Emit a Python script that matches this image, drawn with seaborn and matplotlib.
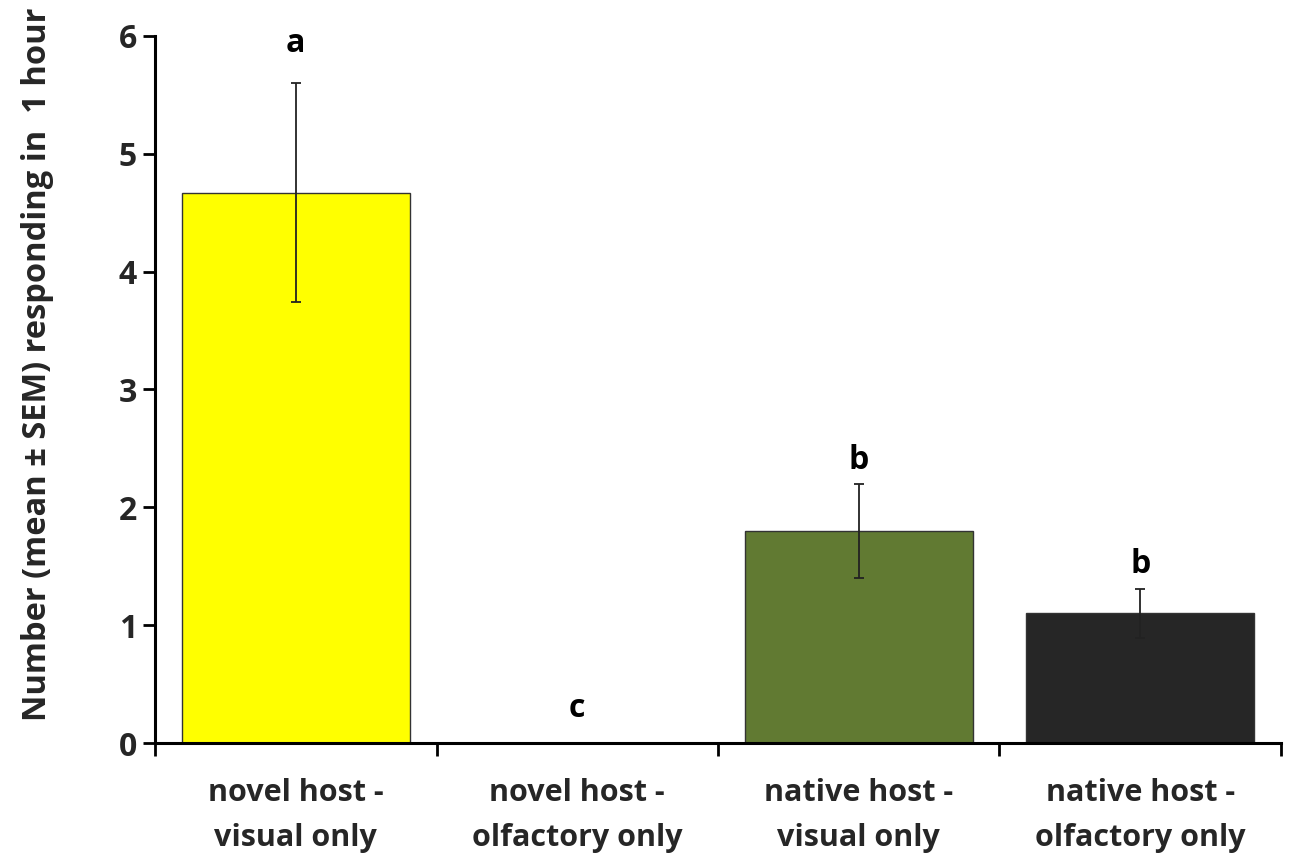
import matplotlib
matplotlib.use("Agg")
import matplotlib.pyplot as plt
import seaborn as sns
import pandas as pd
import numpy as np

# Response counts per treatment (mean and standard error)
treatments = ["novel host -\nvisual only", "novel host -\nolfactory only",
              "native host -\nvisual only", "native host -\nolfactory only"]
means = [4.67, 0.0, 1.80, 1.10]
sems = [0.93, 0.0, 0.40, 0.21]
letters = ["a", "c", "b", "b"]
bar_colors = ["#FFFF00", "#FFFFFF", "#617A32", "#262626"]
y_ticks = [0, 1, 2, 3, 4, 5, 6]

sns.set_theme(style="white")
plt.rcParams["font.family"] = ["Open Sans", "DejaVu Sans"]

df = pd.DataFrame({"treatment": treatments, "mean": means})

fig = plt.figure(figsize=(12.93, 8.56), dpi=100)
ax = fig.add_axes([0.1199, 0.132, 0.8708, 0.826])

sns.barplot(data=df, x="treatment", y="mean", hue="treatment",
            palette=bar_colors, saturation=1, legend=False, width=0.81,
            edgecolor="#333333", linewidth=1.0, ax=ax)

# zero-height bar gets no outline
for patch, m in zip(ax.patches, means):
    if m == 0:
        patch.set_linewidth(0)

xpos = np.arange(len(treatments))
ax.errorbar(xpos, means, yerr=[s if s > 0 else np.nan for s in sems],
            fmt="none", ecolor="#222222", elinewidth=1.3, capsize=3.5,
            capthick=1.3, zorder=3)

# significance letters above each bar
label_pad_px = [40, 35, 23, 24]
for x, m, s, lab, pad in zip(xpos, means, sems, letters, label_pad_px):
    ax.annotate(lab, xy=(x, m + s), xytext=(0, pad * 72 / 100),
                textcoords="offset points", ha="center", va="center",
                fontsize=23, fontweight="bold", color="black")

ax.set_xlim(-0.5, len(treatments) - 0.5)
ax.set_ylim(0, 6)
ax.set_yticks(y_ticks)
ax.set_yticklabels([str(t) for t in y_ticks], fontsize=23, fontweight="bold")

# category boundaries carry the tick marks; labels sit on the bar centres
ax.set_xticks(np.arange(-0.5, len(treatments), 1.0))
ax.set_xticklabels([])
ax.set_xticks(xpos, minor=True)
ax.set_xticklabels(treatments, minor=True, fontsize=22, fontweight="bold",
                   linespacing=1.68)
ax.tick_params(axis="x", which="minor", length=0, pad=25)
ax.tick_params(axis="x", which="major", direction="out", length=9,
               width=2, color="black", bottom=True)
ax.tick_params(axis="y", direction="out", length=9, width=2,
               color="black", left=True, pad=4)

for side in ["top", "right"]:
    ax.spines[side].set_visible(False)
for side in ["left", "bottom"]:
    ax.spines[side].set_color("black")
    ax.spines[side].set_linewidth(2.2)

ax.set_xlabel("")
ax.set_ylabel("Number (mean \u00b1 SEM) responding in  1 hour",
              fontsize=23.5, fontweight="bold")
ax.yaxis.label.set_verticalalignment("center")
ax.yaxis.set_label_coords(-0.1048, 0.535)

fig.savefig("out.png", dpi=100, facecolor="white")
